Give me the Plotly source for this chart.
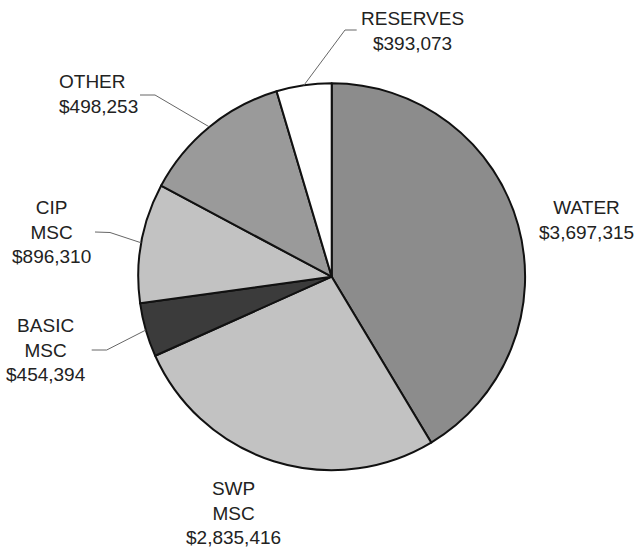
import math
import plotly.graph_objects as go

# ---- data ----
categories = ["WATER", "SWP MSC", "BASIC MSC", "CIP MSC", "OTHER", "RESERVES"]
label_names = ["WATER", "SWP<br>MSC", "BASIC<br>MSC", "CIP<br>MSC", "OTHER", "RESERVES"]
amounts = [3697315, 2835416, 454394, 896310, 498253, 393073]
# slice sizes (percent of the circle) as drawn in the reference
slice_shares = [41.4, 26.9, 4.5, 10.0, 12.6, 4.6]
colors = ["#8c8c8c", "#c2c2c2", "#3b3b3b", "#c2c2c2", "#9a9a9a", "#ffffff"]

# ---- layout geometry (pixels) ----
W, H = 639, 548
CX, CY, R = 331.7, 276.7, 193.4
FONT = dict(family="Liberation Sans, Arial, sans-serif", size=19, color="#222222")

def px(x):
    return x / W

def py(y):
    return 1 - y / H

# label block centres and alignment (pixel positions of text)
label_pos = {
    "WATER": (586, 219.5, "center"),
    "SWP MSC": (233, 513, "center"),
    "BASIC MSC": (46, 349.5, "center"),
    "CIP MSC": (51, 232, "center"),
    "OTHER": (57, 94, "left"),
    "RESERVES": (412.5, 31, "center"),
}
# leader elbows: (start of line next to text, elbow)
leaders = {
    "BASIC MSC": [(91.7, 350), (106.7, 350)],
    "CIP MSC": [(95, 232), (110, 232.5)],
    "OTHER": [(140, 95), (155, 95)],
    "RESERVES": [(356.7, 30), (345, 30)],
}

fig = go.Figure(go.Pie(
    labels=categories,
    values=slice_shares,
    customdata=amounts,
    sort=False,
    direction="clockwise",
    rotation=0,
    textinfo="none",
    hovertemplate="%{label}: $%{customdata:,}<extra></extra>",
    marker=dict(colors=colors, line=dict(color="#111111", width=2)),
    domain=dict(x=[px(CX - R), px(CX + R)], y=[py(CY + R), py(CY - R)]),
    showlegend=False,
))

total = sum(slice_shares)
cum = 0.0
annotations = []
shapes = []
for name, disp, amt, share in zip(categories, label_names, amounts, slice_shares):
    mid = (cum + share / 2) / total * 360.0
    cum += share
    lx, ly, align = label_pos[name]
    text = f"{disp}<br>${amt:,}"
    annotations.append(dict(
        x=px(lx), y=py(ly), xref="paper", yref="paper",
        text=text, showarrow=False, font=FONT, align=align,
        xanchor="left" if align == "left" else "center", yanchor="middle",
    ))
    if name in leaders:
        ex = CX + R * math.sin(math.radians(mid))
        ey = CY - R * math.cos(math.radians(mid))
        (ax, ay), (bx, by) = leaders[name]
        path = f"M {px(ax)},{py(ay)} L {px(bx)},{py(by)} L {px(ex)},{py(ey)}"
        shapes.append(dict(type="path", path=path, xref="paper", yref="paper",
                           line=dict(color="#666666", width=1)))

fig.update_layout(
    width=W, height=H,
    margin=dict(l=0, r=0, t=0, b=0),
    paper_bgcolor="white", plot_bgcolor="white",
    annotations=annotations, shapes=shapes,
)

fig.write_html("out.html", config={"displayModeBar": False},
               post_script="document.body.style.margin='0';")
